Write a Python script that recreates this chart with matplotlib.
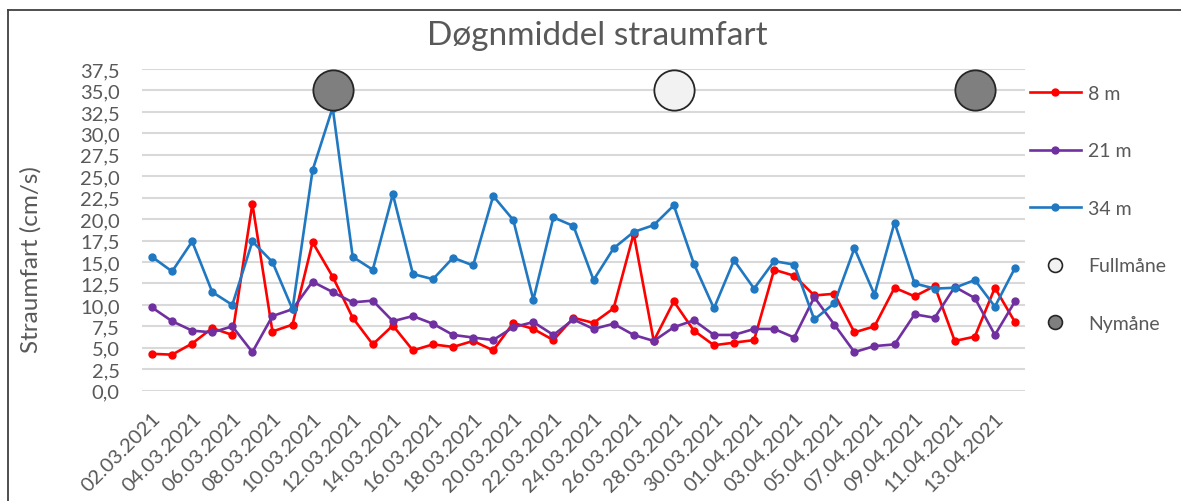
import pandas as pd
import matplotlib
matplotlib.use('Agg')
import matplotlib.pyplot as plt
from matplotlib.lines import Line2D

# datoar (dagleg, 02.03.2021 - 14.04.2021)
datoar = pd.date_range('2021-03-02', '2021-04-14', freq='D').strftime('%d.%m.%Y').tolist()

fart_8m = [4.3, 4.2, 5.5, 7.3, 6.5, 21.8, 6.9, 7.7, 17.3, 13.3,
           8.5, 5.4, 7.6, 4.7, 5.4, 5.1, 5.8, 4.7, 7.9, 7.2,
           5.9, 8.5, 7.9, 9.6, 18.3, 5.8, 10.4, 7.0, 5.3, 5.6,
           5.9, 14.1, 13.4, 11.1, 11.3, 6.8, 7.5, 12.0, 11.0, 12.2,
           5.8, 6.3, 12.0, 8.0]
fart_21m = [9.7, 8.1, 7.0, 6.8, 7.5, 4.5, 8.7, 9.5, 12.7, 11.5,
            10.3, 10.5, 8.1, 8.7, 7.8, 6.5, 6.2, 5.9, 7.4, 8.0,
            6.5, 8.3, 7.2, 7.8, 6.5, 5.8, 7.4, 8.2, 6.5, 6.5,
            7.2, 7.2, 6.2, 10.9, 7.7, 4.5, 5.2, 5.4, 8.9, 8.5,
            12.1, 10.8, 6.5, 10.4]
fart_34m = [15.6, 13.9, 17.4, 11.5, 10.0, 17.4, 15.0, 9.5, 25.7, 33.0,
            15.6, 14.1, 22.9, 13.6, 13.0, 15.5, 14.6, 22.7, 19.9, 10.6,
            20.2, 19.2, 12.9, 16.6, 18.5, 19.3, 21.6, 14.8, 9.6, 15.2,
            11.9, 15.1, 14.7, 8.3, 10.2, 16.6, 11.2, 19.6, 12.5, 11.9,
            12.0, 12.9, 9.8, 14.3]

fullmaane = ['28.03.2021']
nymaane = ['11.03.2021', '12.04.2021']
maane_niva = 35.0

grey = '#595959'
plt.rcParams['font.family'] = ['Lato', 'DejaVu Sans']

fig = plt.figure(figsize=(11.81, 5.02), dpi=100)
ax = fig.add_axes([142 / 1181, 1 - 391.7 / 502, (1025 - 142) / 1181, (391.7 - 70) / 502])

x = range(len(datoar))
l1, = ax.plot(x, fart_8m, color='#ff0000', lw=1.9, marker='o', ms=5, label='8 m')
l2, = ax.plot(x, fart_21m, color='#7030a0', lw=1.9, marker='o', ms=5, label='21 m')
l3, = ax.plot(x, fart_34m, color='#1f78c1', lw=1.9, marker='o', ms=5, label='34 m')

fx = [datoar.index(d) for d in fullmaane]
nx = [datoar.index(d) for d in nymaane]
ax.plot(fx, [maane_niva] * len(fx), ls='', marker='o', ms=29, mfc='#f2f2f2',
        mec='#262626', mew=1.3, zorder=5, clip_on=False)
ax.plot(nx, [maane_niva] * len(nx), ls='', marker='o', ms=29, mfc='#7f7f7f',
        mec='#262626', mew=1.3, zorder=5, clip_on=False)

ax.set_xlim(-0.5, len(datoar) - 0.5)
ax.set_ylim(0, 37.5)
yt = [i * 2.5 for i in range(16)]
ax.set_yticks(yt)
ax.set_yticklabels([f'{v:.1f}'.replace('.', ',') for v in yt])
ax.set_xticks(list(x)[::2])
ax.set_xticklabels(datoar[::2], rotation=45, ha='right', rotation_mode='anchor')
ax.tick_params(axis='both', length=0, labelsize=14.5, labelcolor=grey)
ax.tick_params(axis='y', pad=16)
ax.tick_params(axis='x', pad=13)
ax.grid(axis='y', color='#d9d9d9', lw=1.5)
ax.set_axisbelow(True)
for s in ax.spines.values():
    s.set_visible(False)

fig.text(597 / 1181, 1 - 36 / 502, 'Døgnmiddel straumfart', ha='center', va='center',
         fontsize=24, color=grey)
fig.text(31 / 1181, 1 - 260 / 502, 'Straumfart (cm/s)', ha='center', va='center',
         rotation=90, fontsize=17.5, color=grey)

h_full = Line2D([], [], ls='', marker='o', ms=10, mfc='#f2f2f2', mec='#262626', mew=1.2)
h_ny = Line2D([], [], ls='', marker='o', ms=10, mfc='#7f7f7f', mec='#262626', mew=1.2)
leg = fig.legend([l1, l2, l3, h_full, h_ny], ['8 m', '21 m', '34 m', 'Fullmåne', 'Nymåne'],
                 loc='upper left', bbox_to_anchor=(1030 / 1181, 1 - 86 / 502), frameon=False,
                 fontsize=14, labelcolor=grey, labelspacing=2.08, handlelength=2.6,
                 handletextpad=0.4, borderpad=0, borderaxespad=0, markerscale=1)

# ramme
fig.add_artist(Line2D([8 / 1181, 8 / 1181], [0, 1 - 11 / 502], color='#404040', lw=1.3))
fig.add_artist(Line2D([8 / 1181, 1], [1 - 11 / 502, 1 - 11 / 502], color='#404040', lw=1.3))

fig.savefig('out.png', dpi=100)
